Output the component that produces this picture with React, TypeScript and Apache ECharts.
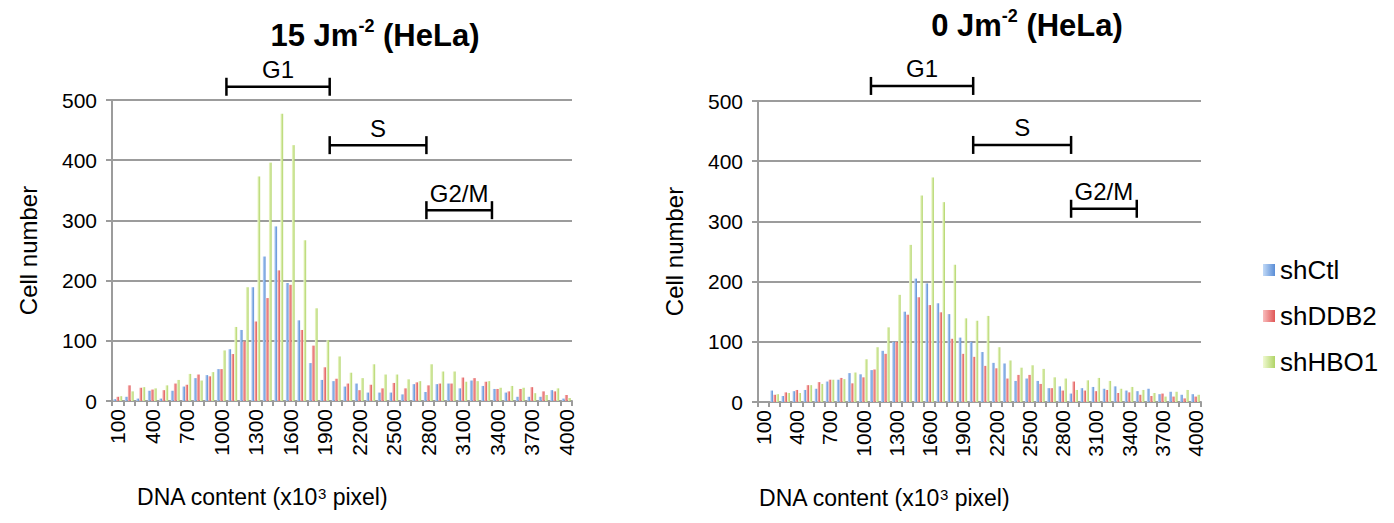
import React, { useEffect, useRef } from 'react';
import * as echarts from 'echarts';

const FONT = '"Liberation Sans", Arial, Helvetica, sans-serif';

const categories = ['100','200','300','400','500','600','700','800','900','1000','1100','1200','1300','1400','1500','1600','1700','1800','1900','2000','2100','2200','2300','2400','2500','2600','2700','2800','2900','3000','3100','3200','3300','3400','3500','3600','3700','3800','3900','4000'];
const tickLabels = ['100','400','700','1000','1300','1600','1900','2200','2500','2800','3100','3400','3700','4000'];
const seriesNames = ['shCtl', 'shDDB2', 'shHBO1'];

// 15 Jm-2 panel
const ctl15 = [3,7,4,17,4,17,24,38,43,53,86,118,189,240,290,196,134,63,35,33,24,29,14,14,14,11,28,15,28,29,21,34,25,20,14,7,7,7,18,4];
const ddb15 = [7,26,22,19,18,29,27,44,41,53,78,99,132,171,217,193,118,92,56,37,29,18,27,21,30,21,31,26,29,29,39,38,32,20,16,20,23,16,16,10];
const hbo15 = [8,16,23,21,26,35,45,34,48,84,123,189,373,396,477,425,267,154,101,74,47,38,61,44,44,36,33,61,49,49,32,33,33,22,25,22,13,10,21,5];

// 0 Jm-2 panel
const ctl0 = [null,19,10,18,20,22,34,37,48,46,53,85,100,150,205,197,164,146,107,100,83,65,64,35,39,35,23,26,14,23,25,22,26,19,18,22,13,17,12,13];
const ddb0 = [null,12,16,20,28,33,37,40,31,41,54,80,100,145,174,161,149,105,80,75,60,56,39,45,45,30,23,19,34,19,18,20,15,16,12,10,14,9,6,9];
const hbo0 = [null,13,15,15,28,30,37,38,49,71,91,124,178,261,343,373,332,228,139,135,143,91,69,57,61,55,41,39,20,36,40,35,22,25,20,15,9,17,20,12];

const titles = ['15 Jm{sup|-2} (HeLa)', '0 Jm{sup|-2} (HeLa)'];

// cell-cycle phase brackets (DNA content range, cell-number level)
const phaseNames = ['G1', 'S', 'G2/M'];
const phaseFrom15 = [1045, 1943, 2784];
const phaseTo15 = [1943, 2784, 3354];
const phaseLevel15 = [522, 425, 317];
const phaseFrom0 = [1070, 1993, 2877];
const phaseTo0 = [1993, 2877, 3470];
const phaseLevel0 = [525, 427, 321];

export default function App() {
  const ref = useRef<HTMLDivElement>(null);

  useEffect(() => {
    const chart = echarts.init(ref.current!, null, { renderer: 'svg' });
    const grad = (a: string, b: string) =>
      new echarts.graphic.LinearGradient(0, 0, 1, 0, [
        { offset: 0, color: a },
        { offset: 1, color: b },
      ]);
    const colors = [grad('#c2daf7', '#5a8dd6'), grad('#f9bdbd', '#e05656'), grad('#f0f9d2', '#b0d466')];
    const gridColor = '#9c9c9c';

    const xAxis = (gridIndex: number) => ({
      type: 'category',
      gridIndex,
      data: categories,
      boundaryGap: true,
      axisLine: { show: true, lineStyle: { color: gridColor, width: 2 } },
      axisTick: { show: true, interval: 0, length: 5, lineStyle: { color: gridColor, width: 2 } },
      axisLabel: {
        interval: (_i: number, v: string) => tickLabels.includes(v),
        rotate: 90,
        fontSize: 21,
        fontFamily: FONT,
        color: '#000',
        margin: 8,
      },
      splitLine: { show: false },
    });
    const yAxis = (gridIndex: number) => ({
      type: 'value',
      gridIndex,
      min: 0,
      max: 500,
      interval: 100,
      name: 'Cell number',
      nameLocation: 'middle',
      nameRotate: 90,
      nameGap: 72,
      nameTextStyle: { fontSize: 24, fontFamily: FONT, color: '#000' },
      axisLine: { show: true, lineStyle: { color: gridColor, width: 2 } },
      axisTick: { show: true, length: 6, lineStyle: { color: gridColor, width: 2 } },
      axisLabel: { fontSize: 21, fontFamily: FONT, color: '#000', margin: 15 },
      splitLine: { show: true, lineStyle: { color: gridColor, width: 2 } },
    });

    const data15 = [ctl15, ddb15, hbo15];
    const data0 = [ctl0, ddb0, hbo0];
    const series: any[] = [];
    [data15, data0].forEach((panel, p) => {
      panel.forEach((d, k) => {
        series.push({
          type: 'bar',
          name: seriesNames[k],
          xAxisIndex: p,
          yAxisIndex: p,
          data: d,
          barWidth: '24%',
          barGap: '10%',
          itemStyle: { color: colors[k] },
        });
      });
    });

    const titleStyle = {
      fontFamily: FONT,
      fontSize: 31,
      fontWeight: 'bold',
      color: '#000',
      lineHeight: 36,
      rich: { sup: { fontFamily: FONT, fontSize: 18, fontWeight: 'bold', color: '#000', verticalAlign: 'top', lineHeight: 25 } },
    };

    chart.setOption({
      animation: false,
      backgroundColor: '#fff',
      title: [
        { text: titles[0], left: 370, top: 12, textAlign: 'center', textStyle: titleStyle },
        { text: titles[1], left: 1022, top: 2, textAlign: 'center', textStyle: titleStyle },
      ],
      legend: {
        data: seriesNames,
        orient: 'vertical',
        left: 1258,
        top: 252,
        itemWidth: 12,
        itemHeight: 12,
        itemGap: 20,
        icon: 'rect',
        textStyle: { fontSize: 26, fontFamily: FONT, color: '#000' },
      },
      grid: [
        { left: 112, right: 1394 - 572, top: 100, bottom: 523 - 401 },
        { left: 758, right: 1394 - 1201, top: 101, bottom: 523 - 402 },
      ],
      xAxis: [xAxis(0), xAxis(1)],
      yAxis: [yAxis(0), yAxis(1)],
      series,
    });

    const graphics: any[] = [];
    const panels = [
      { from: phaseFrom15, to: phaseTo15, level: phaseLevel15 },
      { from: phaseFrom0, to: phaseTo0, level: phaseLevel0 },
    ];
    panels.forEach((ph, p) => {
      const c0 = chart.convertToPixel({ xAxisIndex: p } as any, categories[0]) as number;
      const c1 = chart.convertToPixel({ xAxisIndex: p } as any, categories[1]) as number;
      const px = (v: number) => c0 + (v / 100 - 1) * (c1 - c0);
      phaseNames.forEach((nm, i) => {
        const x1 = px(ph.from[i]);
        const x2 = px(ph.to[i]);
        const y = chart.convertToPixel({ yAxisIndex: p } as any, ph.level[i]) as number;
        const st = { stroke: '#000', lineWidth: 2.5 };
        graphics.push({ type: 'line', shape: { x1, y1: y, x2, y2: y }, style: st });
        graphics.push({ type: 'line', shape: { x1, y1: y - 9, x2: x1, y2: y + 9 }, style: st });
        graphics.push({ type: 'line', shape: { x1: x2, y1: y - 9, x2, y2: y + 9 }, style: st });
        graphics.push({
          type: 'text',
          x: (x1 + x2) / 2,
          y: y - 5,
          style: { text: nm, fontSize: 24, fontFamily: FONT, fill: '#000', textAlign: 'center', textVerticalAlign: 'bottom' },
        });
      });
    });
    const xNames = [
      { x: 262, y: 497 },
      { x: 884, y: 498 },
    ];
    xNames.forEach((n) => {
      graphics.push({
        type: 'text',
        x: n.x,
        y: n.y,
        style: {
          text: 'DNA content (x10{sup|3} pixel)',
          fontSize: 23,
          fontFamily: FONT,
          fill: '#000',
          textAlign: 'center',
          textVerticalAlign: 'middle',
          rich: { sup: { fontSize: 15, fontFamily: FONT, fill: '#000', verticalAlign: 'top', lineHeight: 19 } },
        },
      });
    });
    chart.setOption({ graphic: graphics });

    return () => chart.dispose();
  }, []);

  return <div ref={ref} style={{ position: 'fixed', left: 0, top: 0, width: 1394, height: 523 }} />;
}
